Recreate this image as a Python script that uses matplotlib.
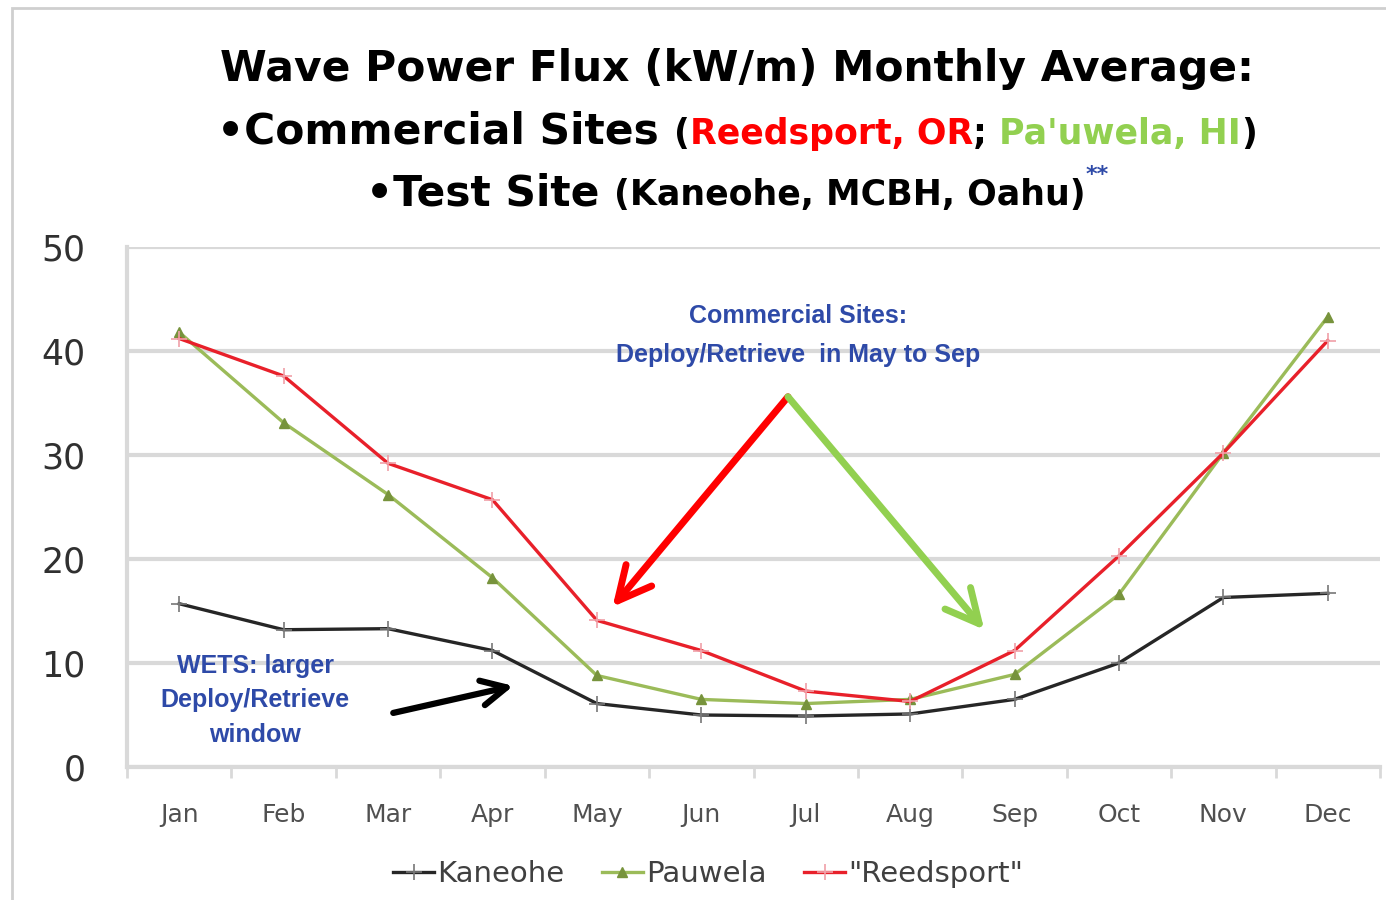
import numpy as np
import matplotlib
matplotlib.use("Agg")
from matplotlib import pyplot as plt
from matplotlib.patches import Rectangle

months = ["Jan", "Feb", "Mar", "Apr", "May", "Jun",
          "Jul", "Aug", "Sep", "Oct", "Nov", "Dec"]
kaneohe = [15.7, 13.2, 13.3, 11.2, 6.1, 5.0, 4.9, 5.1, 6.5, 10.0, 16.3, 16.7]
pauwela = [41.8, 33.1, 26.2, 18.2, 8.8, 6.5, 6.1, 6.5, 8.9, 16.6, 30.2, 43.3]
reedsport = [41.2, 37.6, 29.2, 25.7, 14.1, 11.2, 7.3, 6.3, 11.2, 20.3, 30.2, 41.0]
yticks = [0, 10, 20, 30, 40, 50]

BLUE = "#2e4aa8"
GRID = "#d9d9d9"
NARROW = ["Liberation Sans Narrow", "Liberation Sans", "DejaVu Sans"]

W, H, DPI = 1386, 900, 100
fig = plt.figure(figsize=(W / DPI, H / DPI), dpi=DPI)
fig.patch.set_facecolor("white")
fig.patches.append(Rectangle((12 / W, -0.01), 1.2, 1 - 8 / H + 0.01,
                             transform=fig.transFigure, fill=False,
                             edgecolor="#cfcfcf", lw=2))

ax = fig.add_axes([127 / W, 1 - 767 / H, (1380 - 127) / W, (767 - 247) / H])
x = np.arange(len(months))

ax.plot(x, kaneohe, color="#262626", lw=2.4, marker="+", ms=11, mew=1.2,
        mec="#777777", label="Kaneohe", zorder=3)
ax.plot(x, pauwela, color="#9bbb59", lw=2.4, marker="^", ms=7,
        mfc="#77933c", mec="#77933c", label="Pauwela", zorder=3)
ax.plot(x, reedsport, color="#e8202a", lw=2.4, marker="+", ms=11, mew=1.2,
        mec="#f0a0a8", label='"Reedsport"', zorder=4)

ax.set_xlim(-0.5, 11.5)
ax.set_ylim(0, 50)
ax.set_yticks(yticks)
ax.set_yticklabels([str(v) for v in yticks], fontsize=25, color="#303030")
ax.set_xticks(x)
ax.set_xticklabels(months, fontsize=18, color="#505050")
ax.set_xticks(np.arange(-0.5, 12, 1), minor=True)
ax.tick_params(axis="x", which="major", length=0, pad=26)
ax.tick_params(axis="x", which="minor", length=8, width=2, color=GRID,
               direction="out")
ax.tick_params(axis="y", length=0, pad=30)
ax.grid(axis="y", color=GRID, lw=3)
ax.set_axisbelow(True)
for side in ["top", "right"]:
    ax.spines[side].set_visible(False)
ax.spines["left"].set_color(GRID)
ax.spines["left"].set_linewidth(3)
ax.spines["bottom"].set_color(GRID)
ax.spines["bottom"].set_linewidth(3)

# annotations
ax.text(5.93, 43.4, "Commercial Sites:", color=BLUE, fontsize=18,
        fontweight="bold", ha="center", va="center", family=NARROW)
ax.text(5.93, 39.6, "Deploy/Retrieve  in May to Sep", color=BLUE, fontsize=18,
        fontweight="bold", ha="center", va="center", family=NARROW)
ax.text(0.73, 6.4, "WETS: larger\nDeploy/Retrieve\nwindow", color=BLUE,
        fontsize=18, fontweight="bold", ha="center", va="center",
        linespacing=1.55, family=NARROW)

ax.annotate("", xy=(4.15, 15.4), xytext=(5.83, 35.6),
            arrowprops=dict(arrowstyle="->,head_length=1.2,head_width=0.6",
                            mutation_scale=20, color="#ff0000", lw=5,
                            shrinkA=0, shrinkB=0))
ax.annotate("", xy=(7.71, 13.2), xytext=(5.83, 35.6),
            arrowprops=dict(arrowstyle="->,head_length=1.2,head_width=0.6",
                            mutation_scale=20, color="#92d050", lw=5,
                            shrinkA=0, shrinkB=0))
ax.annotate("", xy=(3.20, 7.8), xytext=(2.05, 5.2),
            arrowprops=dict(arrowstyle="->,head_length=1.0,head_width=0.5",
                            mutation_scale=18, color="black", lw=4.5,
                            shrinkA=0, shrinkB=0))

leg = fig.legend(loc="center", bbox_to_anchor=(708 / W, 1 - 874 / H), ncol=3,
                 frameon=False, fontsize=21, handlelength=1.4,
                 handletextpad=0.1, columnspacing=1.3)
for t in leg.get_texts():
    t.set_color("#404040")

# title, built from pieces so parts can differ in size and colour
renderer = fig.canvas.get_renderer()


def title_line(pieces, y_px):
    texts = []
    for s, size, color, dy in pieces:
        t = fig.text(0, 0, s, fontsize=size, color=color, fontweight="bold",
                     va="baseline", ha="left", transform=None)
        texts.append((t, dy))
    widths = [t.get_window_extent(renderer).width for t, _ in texts]
    x0 = 737 - sum(widths) / 2
    for (t, dy), w in zip(texts, widths):
        t.set_position((x0, H - y_px + dy))
        x0 += w


title_line([("Wave Power Flux (kW/m) Monthly Average:", 30.5, "black", 0)], 81)
title_line([("\u2022Commercial Sites ", 30.5, "black", 0),
            ("(", 25, "black", 0),
            ("Reedsport, OR", 25, "#ff0000", 0),
            ("; ", 25, "black", 0),
            ("Pa'uwela, HI", 25, "#92d050", 0),
            (")", 25, "black", 0)], 144)
title_line([("\u2022Test Site ", 30.5, "black", 0),
            ("(Kaneohe, MCBH, Oahu)", 25, "black", 0),
            ("**", 16, BLUE, 24)], 205)

fig.savefig("out.png", dpi=DPI)
